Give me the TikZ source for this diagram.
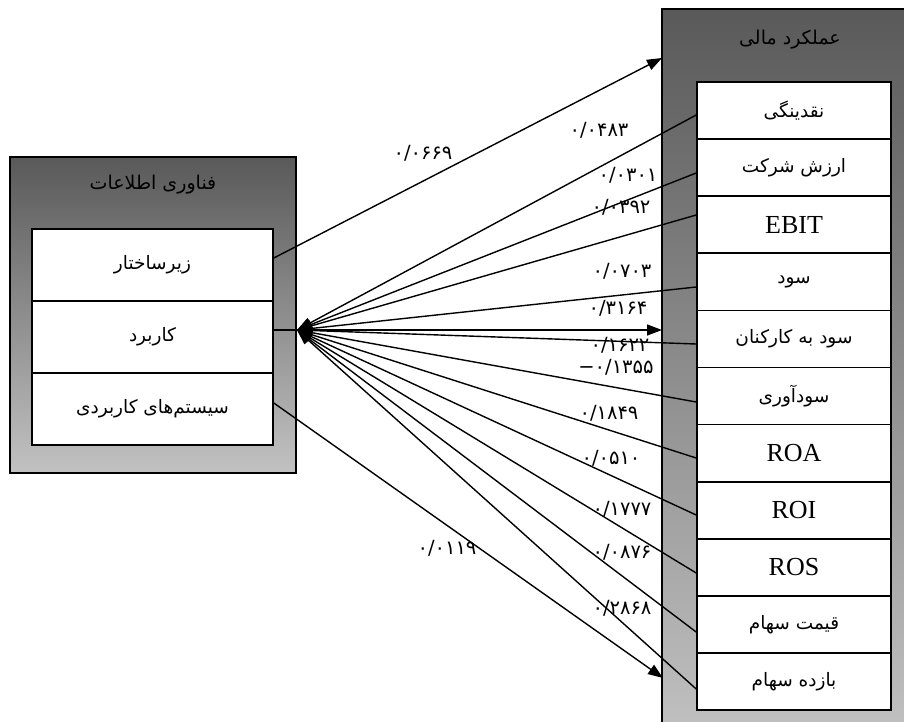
\documentclass[tikz,border=0pt]{standalone}
\usepackage{fontspec}
\setmainfont{Liberation Serif}
\newfontfamily\fa[Script=Arabic]{DejaVu Sans}
\newfontfamily\fadig{DejaVu Sans}
\TeXXeTstate=1
\usetikzlibrary{arrows.meta}
\begin{document}
\begin{tikzpicture}[x=1pt,y=-1pt,
  outerbox/.style={draw=black,line width=1.6pt,top color=black!65,bottom color=black!24,inner sep=0pt},
  cellL/.style={draw=black,line width=1.6pt,fill=white,minimum width=241pt,minimum height=72pt,inner sep=0pt,font=\fa\fontsize{18.5}{18.5}\selectfont},
  cellR/.style={draw=black,line width=1.6pt,fill=white,minimum width=194pt,minimum height=57.1pt,inner sep=0pt,font=\fa\fontsize{18.5}{18.5}\selectfont},
  latin/.style={font=\fontsize{26}{26}\selectfont},
  ttl/.style={font=\fa\fontsize{19}{19}\selectfont,inner sep=0pt},
  val/.style={font=\fadig\fontsize{19.5}{19.5}\selectfont,inner sep=0pt},
  arr/.style={line width=1.4pt,-{Triangle[length=15pt,width=11pt]}}
]
\useasboundingbox (0,0) rectangle (904,722);
\clip (0,0) rectangle (904,722);
\fill[white] (0,0) rectangle (904,722);

% left box
\node[outerbox,minimum width=286pt,minimum height=316pt] (it) at (153,315) {};
\node[ttl] (itT) at (153,185) {\beginR فناوری اطلاعات\endR};
\node[cellL] (infra) at (152.5,265) {\beginR زیرساختار\endR};
\node[cellL] (app) at (152.5,337) {\beginR کاربرد\endR};
\node[cellL] (sys) at (152.5,409) {\beginR سیستم‌های کاربردی\endR};

% right box
\node[outerbox,minimum width=258pt,minimum height=731pt] (fin) at (791,374.5) {};
\node[ttl] (finT) at (790,40) {\beginR عملکرد مالی\endR};
\node[cellR] (r1) at (794,110.5) {\beginR نقدینگی\endR};
\node[cellR] (r2) at (794,167.6) {\beginR ارزش شرکت\endR};
\node[cellR,latin] (r3) at (794,224.7) {EBIT};
\node[cellR] (r4) at (794,281.8) {\beginR سود\endR};
\node[cellR] (r5) at (794,338.9) {\beginR سود به کارکنان\endR};
\node[cellR] (r6) at (794,396.0) {\beginR سودآوری\endR};
\node[cellR,latin] (r7) at (794,453.2) {ROA};
\node[cellR,latin] (r8) at (794,510.3) {ROI};
\node[cellR,latin] (r9) at (794,567.4) {ROS};
\node[cellR] (r10) at (794,624.5) {\beginR قیمت سهام\endR};
\node[cellR] (r11) at (794,681.6) {\beginR بازده سهام\endR};

\coordinate (hub) at (297,330);
\coordinate (tipA) at (662,58);
\coordinate (tipB) at (662,330);
\coordinate (tipC) at (663,678);

% connectors from IT
\draw[arr] ([yshift=7pt]infra.east) -- (tipA);
\draw[arr] ([yshift=7pt]app.east) -- (tipB);
\draw[arr] ([yshift=6pt]sys.east) -- (tipC);

% connectors from financial items
\draw[arr] ([yshift=-4.5pt]r1.west) -- (hub);
\draw[arr] ([yshift=-5.4pt]r2.west) -- (hub);
\draw[arr] ([yshift=9.7pt]r3.west) -- (hub);
\draw[arr] ([yshift=-5.2pt]r4.west) -- (hub);
\draw[arr] ([yshift=-5.1pt]r5.west) -- (hub);
\draw[arr] ([yshift=-6pt]r6.west) -- (hub);
\draw[arr] ([yshift=-4.8pt]r7.west) -- (hub);
\draw[arr] ([yshift=-4.7pt]r8.west) -- (hub);
\draw[arr] ([yshift=-5.6pt]r9.west) -- (hub);
\draw[arr] ([yshift=-7.5pt]r10.west) -- (hub);
\draw[arr] ([yshift=-7.4pt]r11.west) -- (hub);

% values
\node[val] (v0) at (423,153) {۰/۰۶۶۹};
\node[val] (v1) at (599,130) {۰/۰۴۸۳};
\node[val] (v2) at (628,175) {۰/۰۳۰۱};
\node[val] (v3) at (621,207) {۰/۰۳۹۲};
\node[val] (v4) at (622,271) {۰/۰۷۰۳};
\node[val] (v5) at (618,308) {۰/۳۱۶۴};
\node[val] (v6) at (620,345) {۰/۱۶۲۲};
\node[val] (v7) at (616,367) {−۰/۱۳۵۵};
\node[val] (v8) at (609,413) {۰/۱۸۴۹};
\node[val] (v9) at (611,458) {۰/۰۵۱۰};
\node[val] (v10) at (622,509) {۰/۱۷۷۷};
\node[val] (v11) at (622,552) {۰/۰۸۷۶};
\node[val] (v12) at (622,608) {۰/۲۸۶۸};
\node[val] (v13) at (447,548) {۰/۰۱۱۹};
\end{tikzpicture}
\end{document}
